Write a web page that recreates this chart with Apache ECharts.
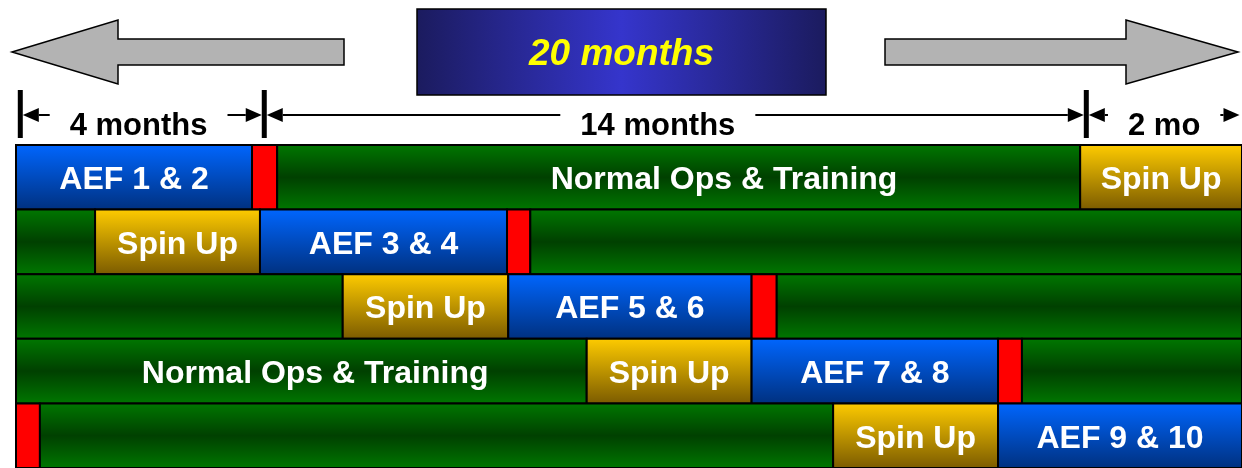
<!DOCTYPE html>
<html>
<head>
<meta charset="utf-8">
<style>
  html, body { margin: 0; padding: 0; background: #fff; }
  #chart { width: 1242px; height: 468px; }
</style>
<script src="https://cdn.jsdelivr.net/npm/echarts@6.0.0/dist/echarts.min.js"></script>
</head>
<body>
<div id="chart"></div>
<script>
// one row per AEF pair, top to bottom
// segment: [kind, start month, end month, label, label centre month (optional)]
const row1 = [['aef', 0, 3.85, 'AEF 1 & 2'], ['reset', 3.85, 4.26], ['ops', 4.26, 17.36, 'Normal Ops & Training', 11.55], ['spin', 17.36, 20, 'Spin Up']]
const row2 = [['ops', 0, 1.29], ['spin', 1.29, 3.98, 'Spin Up'], ['aef', 3.98, 8.01, 'AEF 3 & 4'], ['reset', 8.01, 8.39], ['ops', 8.39, 20]]
const row3 = [['ops', 0, 5.33], ['spin', 5.33, 8.03, 'Spin Up'], ['aef', 8.03, 12.0, 'AEF 5 & 6'], ['reset', 12.0, 12.41], ['ops', 12.41, 20]]
const row4 = [['ops', 0, 9.31, 'Normal Ops & Training', 4.88], ['spin', 9.31, 12.0, 'Spin Up'], ['aef', 12.0, 16.02, 'AEF 7 & 8'], ['reset', 16.02, 16.41], ['ops', 16.41, 20]]
const row5 = [['reset', 0, 0.39], ['ops', 0.39, 13.33], ['spin', 13.33, 16.02, 'Spin Up'], ['aef', 16.02, 20, 'AEF 9 & 10']]
const rows = [row1, row2, row3, row4, row5]
const rowNames = ['Row 1', 'Row 2', 'Row 3', 'Row 4', 'Row 5']

// dimension line above the rows
const spanEdges = [0.07, 4.05, 17.46, 20]
const spanLabels = ['4 months', '14 months', '2 mo']
const spanLabelAt = [2.0, 10.47, 18.73]
const totalLabel = '20 months'

const FONT = '"Liberation Sans", Arial, sans-serif'

const grad = (stops) => new echarts.graphic.LinearGradient(0, 0, 0, 1,
  stops.map(([offset, color]) => ({ offset, color })))

const fills = {
  aef: grad([[0, '#0066ff'], [1, '#00307e']]),
  spin: grad([[0, '#ffcc00'], [1, '#7a5a00']]),
  ops: grad([[0, '#007800'], [0.5, '#004000'], [1, '#007800']]),
  reset: '#ff0000',
}

const segs = []
rows.forEach((row, r) => {
  row.forEach(([kind, start, end, label, at]) => {
    segs.push({ value: [r, start, end], kind, label: label || '', at })
  })
})

const spans = spanLabels.map((label, i) => ({
  value: [spanEdges[i], spanEdges[i + 1], spanLabelAt[i]],
  label,
}))

const measure = document.createElement('canvas').getContext('2d')
measure.font = 'bold 31px ' + FONT

const renderSeg = (params, api) => {
  const seg = segs[params.dataIndex]
  const r = api.value(0)
  const p0 = api.coord([api.value(1), r])
  const p1 = api.coord([api.value(2), r])
  const h = api.size([0, 1])[1]
  const children = [{
    type: 'rect',
    shape: { x: p0[0], y: p0[1] - h / 2, width: p1[0] - p0[0], height: h },
    style: { fill: fills[seg.kind], stroke: '#000', lineWidth: 2 },
  }]
  if (seg.label) {
    const cx = seg.at != null ? api.coord([seg.at, r])[0] : (p0[0] + p1[0]) / 2
    children.push({
      type: 'text',
      style: {
        text: seg.label, x: cx, y: p0[1] + 3,
        fill: '#fff', fontSize: 32, fontWeight: 'bold', fontFamily: FONT,
        align: 'center', verticalAlign: 'middle',
      },
    })
  }
  return { type: 'group', children }
}

const renderSpan = (params, api) => {
  const span = spans[params.dataIndex]
  const cs = params.coordSys
  const s = api.coord([api.value(0), 0])[0]
  const e = api.coord([api.value(1), 0])[0]
  const mid = api.coord([api.value(2), 0])[0]
  const ly = cs.y + 27
  const tw = measure.measureText(span.label).width
  const gapL = mid - tw / 2 - 20
  const gapR = mid + tw / 2 + 20
  const head = 16
  const hw = 7
  const children = [
    { type: 'rect', shape: { x: s - 2.5, y: cs.y + 2, width: 5, height: 48 }, style: { fill: '#000' } },
    { type: 'polygon', shape: { points: [[s + 2.5, ly], [s + 2.5 + head, ly - hw], [s + 2.5 + head, ly + hw]] }, style: { fill: '#000' } },
    { type: 'line', shape: { x1: s + 2.5 + head, y1: ly, x2: gapL, y2: ly }, style: { stroke: '#000', lineWidth: 2 } },
    { type: 'polygon', shape: { points: [[e - 2.5, ly], [e - 2.5 - head, ly - hw], [e - 2.5 - head, ly + hw]] }, style: { fill: '#000' } },
    { type: 'line', shape: { x1: gapR, y1: ly, x2: e - 2.5 - head, y2: ly }, style: { stroke: '#000', lineWidth: 2 } },
    {
      type: 'text',
      style: {
        text: span.label, x: mid, y: cs.y + 38,
        fill: '#000', fontSize: 31, fontWeight: 'bold', fontFamily: FONT,
        align: 'center', verticalAlign: 'middle',
      },
    },
  ]
  return { type: 'group', children }
}

const chart = echarts.init(document.getElementById('chart'))

chart.setOption({
  animation: false,
  backgroundColor: '#fff',
  grid: [
    { left: 16, right: 0, top: 145, height: 325 },
    { left: 16, right: 0, top: 88, height: 52 },
  ],
  xAxis: [
    { type: 'value', gridIndex: 0, min: 0, max: 20, show: false },
    { type: 'value', gridIndex: 1, min: 0, max: 20, show: false },
  ],
  yAxis: [
    { type: 'category', gridIndex: 0, data: rowNames, inverse: true, show: false },
    { type: 'value', gridIndex: 1, min: 0, max: 1, show: false },
  ],
  graphic: [
    {
      type: 'polygon',
      shape: { points: [[12, 52], [118, 20], [118, 39], [344, 39], [344, 65], [118, 65], [118, 84]] },
      style: { fill: '#b3b3b3', stroke: '#000', lineWidth: 1.5 },
    },
    {
      type: 'polygon',
      shape: { points: [[1238, 52], [1126, 20], [1126, 39], [885, 39], [885, 65], [1126, 65], [1126, 84]] },
      style: { fill: '#b3b3b3', stroke: '#000', lineWidth: 1.5 },
    },
    {
      type: 'rect',
      shape: { x: 417, y: 9, width: 409, height: 86 },
      style: {
        fill: new echarts.graphic.LinearGradient(0, 0, 1, 0, [
          { offset: 0, color: '#1b1b5e' },
          { offset: 0.5, color: '#3535cc' },
          { offset: 1, color: '#1b1b5e' },
        ]),
        stroke: '#000', lineWidth: 1.5,
      },
    },
    {
      type: 'text',
      style: {
        text: totalLabel, x: 621.5, y: 55,
        fill: '#ffff00', fontSize: 37, fontWeight: 'bold', fontStyle: 'italic', fontFamily: FONT,
        align: 'center', verticalAlign: 'middle',
      },
    },
  ],
  series: [
    {
      type: 'custom',
      xAxisIndex: 0,
      yAxisIndex: 0,
      renderItem: renderSeg,
      encode: { x: [1, 2], y: 0 },
      data: segs.map(d => d.value),
      clip: false,
    },
    {
      type: 'custom',
      xAxisIndex: 1,
      yAxisIndex: 1,
      renderItem: renderSpan,
      encode: { x: [0, 1] },
      data: spans.map(d => d.value),
      clip: false,
    },
  ],
})
</script>
</body>
</html>
